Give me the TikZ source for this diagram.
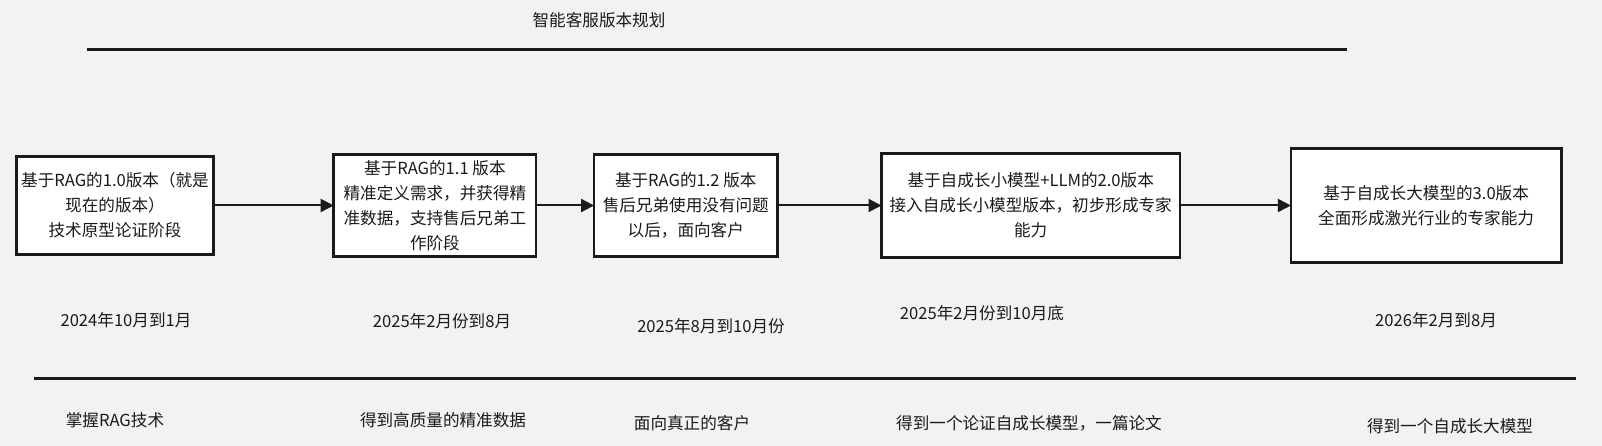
\documentclass[tikz,border=0pt]{standalone}
\usepackage{fontspec}
\setmainfont{Noto Sans CJK SC}
\usetikzlibrary{arrows.meta, positioning}
\definecolor{canvas}{HTML}{F2F2F2}
\definecolor{ink}{HTML}{1A1A1A}

\begin{document}
\begin{tikzpicture}[
  x=1pt, y=-1pt,
  block/.style={rectangle, draw=ink, fill=white, line width=2.6pt, text=ink, align=center, inner sep=0pt, outer sep=0pt, font=\fontsize{16.6}{25}\selectfont},
  arrow/.style={-{Triangle[length=13pt,width=13pt]}, line width=2pt, color=ink},
  rule/.style={line width=3pt, color=ink},
  note/.style={text=ink, inner sep=0pt, font=\fontsize{16.6}{25}\selectfont}
]
\useasboundingbox[fill=canvas] (0,0) rectangle (1602,446);
\node[note] (title) at (599,20) {智能客服版本规划};
\draw[rule] (87,50) -- (1347,50);
\node[block, minimum width=197.4pt, minimum height=98.4pt] (v10) at (115,205.5) {基于RAG的1.0版本（就是\\现在的版本）\\技术原型论证阶段};
\node[block, minimum width=202.4pt, minimum height=101.4pt, right=120pt of v10] (v11) {基于RAG的1.1 版本\\精准定义需求，并获得精\\准数据，支持售后兄弟工\\作阶段};
\node[block, minimum width=183.4pt, minimum height=101.4pt, right=58pt of v11] (v12) {基于RAG的1.2 版本\\售后兄弟使用没有问题\\以后，面向客户};
\node[block, minimum width=298.4pt, minimum height=104.4pt, right=104pt of v12] (v20) {基于自成长小模型+LLM的2.0版本\\接入自成长小模型版本，初步形成专家\\能力};
\node[block, minimum width=270.4pt, minimum height=114.4pt, right=111pt of v20] (v30) {基于自成长大模型的3.0版本\\全面形成激光行业的专家能力};
\draw[arrow] (v10) -- (v11);
\draw[arrow] (v11) -- (v12);
\draw[arrow] (v12) -- (v20);
\draw[arrow] (v20) -- (v30);
\node[note] (d10) at (126,320) {2024年10月到1月};
\node[note] (d11) at (442,321) {2025年2月份到8月};
\node[note] (d12) at (711,326) {2025年8月到10月份};
\node[note] (d20) at (982,313) {2025年2月份到10月底};
\node[note] (d30) at (1436,320) {2026年2月到8月};
\draw[rule] (34,378) -- (1576,378);
\node[note] (g10) at (115,420) {掌握RAG技术};
\node[note] (g11) at (443,420) {得到高质量的精准数据};
\node[note] (g12) at (692,423) {面向真正的客户};
\node[note] (g20) at (1029,423) {得到一个论证自成长模型，一篇论文};
\node[note] (g30) at (1450,426) {得到一个自成长大模型};
\end{tikzpicture}
\end{document}
